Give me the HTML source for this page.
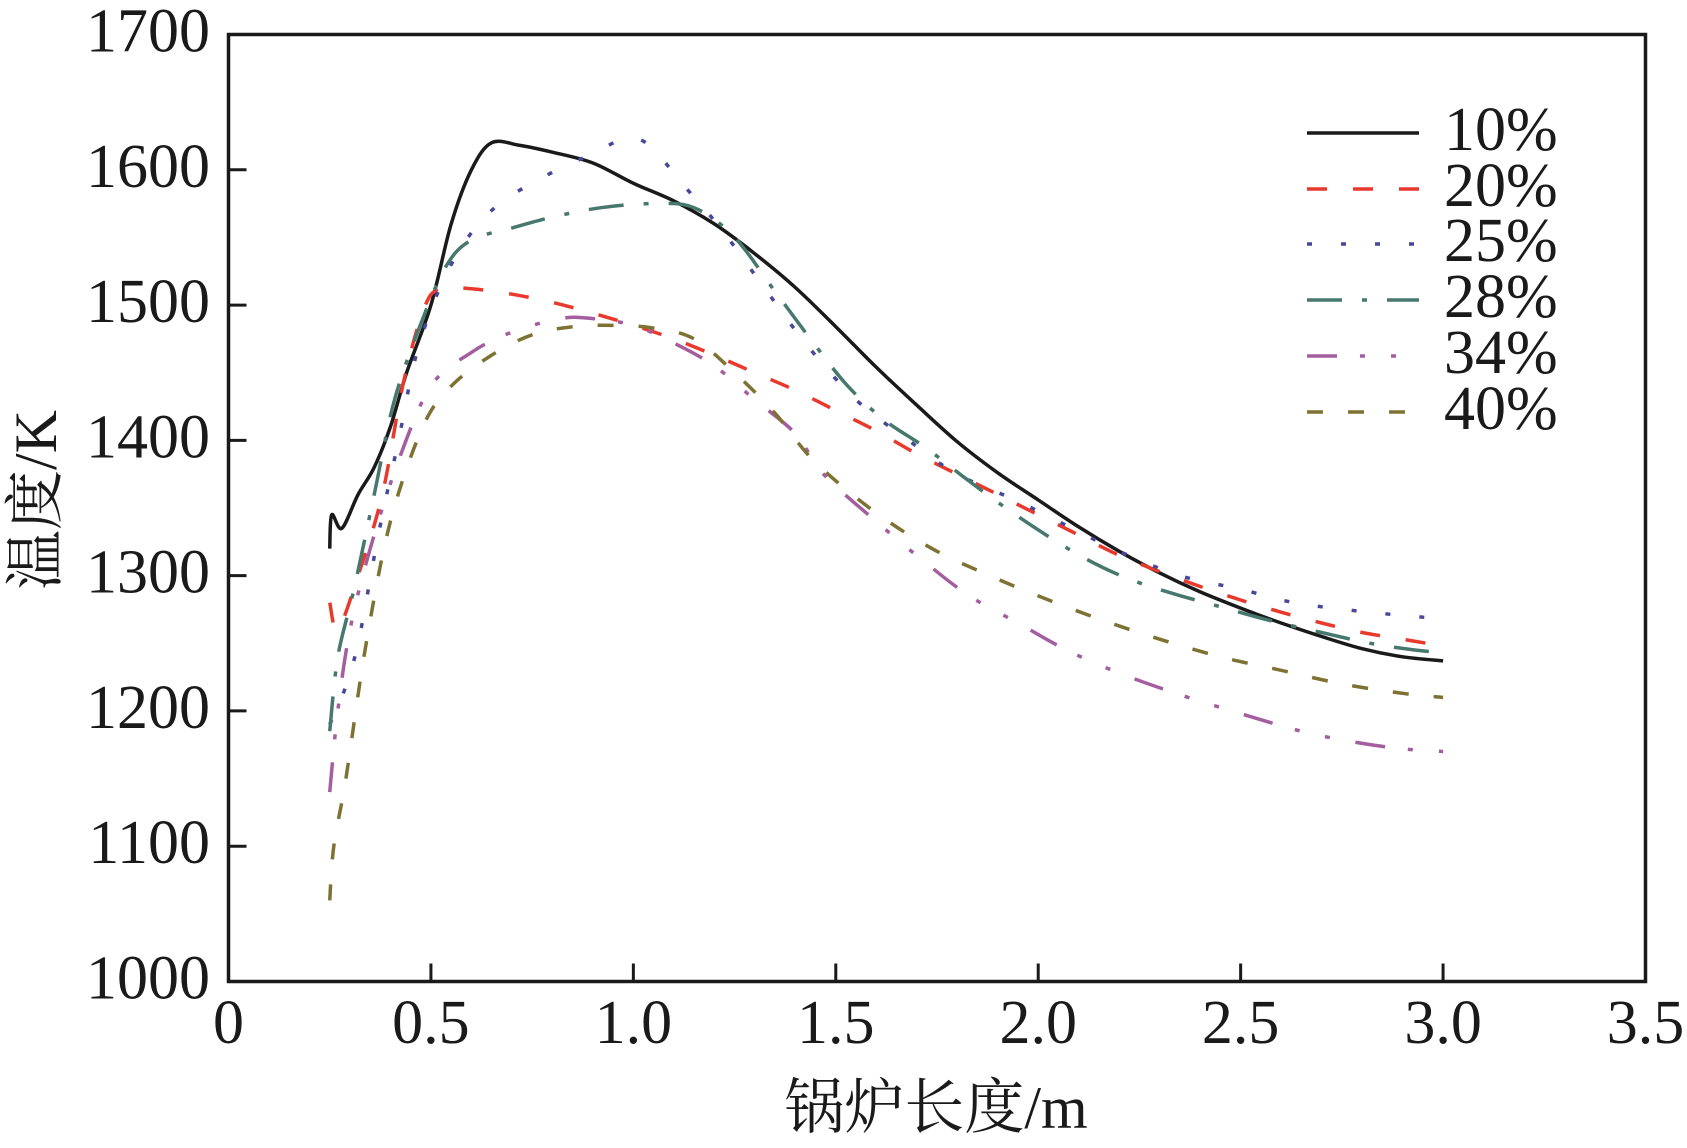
<!DOCTYPE html>
<html><head><meta charset="utf-8"><style>
html,body{margin:0;padding:0;background:#fff;}
svg{display:block;}
text{font-family:"Liberation Serif","Noto Serif CJK SC",serif;fill:#1a1a1a;}
</style></head><body>
<svg id="chart" width="1687" height="1148" viewBox="0 0 1687 1148" xmlns="http://www.w3.org/2000/svg">
<g id="grid"></g>
<g id="series"></g>
<g id="axes"></g>
<g id="legend"></g>
</svg>
<script>
const xTicks=[0,0.5,1.0,1.5,2.0,2.5,3.0,3.5];
const xTickLabels=["0","0.5","1.0","1.5","2.0","2.5","3.0","3.5"];
const yTicks=[1000,1100,1200,1300,1400,1500,1600,1700];
const seriesNames=["10%","20%","25%","28%","34%","40%"];
const x10=[0.25,0.255,0.28,0.32,0.36,0.4,0.44,0.5,0.55,0.6,0.65,0.72,0.8,0.9,1.0,1.1,1.2,1.3,1.4,1.5,1.6,1.7,1.8,1.9,2.0,2.1,2.2,2.3,2.4,2.5,2.6,2.7,2.8,2.9,3.0];
const y10=[1320,1345,1335,1360,1380,1410,1450,1500,1560,1600,1620,1618,1613,1605,1590,1577,1560,1538,1513,1484,1454,1426,1399,1376,1356,1336,1318,1302,1288,1276,1265,1255,1246,1240,1237];
const x20=[0.25,0.27,0.32,0.38,0.43,0.48,0.52,0.6,0.7,0.8,0.9,1.0,1.1,1.2,1.3,1.4,1.5,1.6,1.7,1.8,1.9,2.0,2.1,2.2,2.3,2.4,2.5,2.6,2.7,2.8,2.9,3.0];
const y20=[1280,1260,1300,1360,1440,1495,1512,1512,1508,1502,1494,1485,1475,1463,1450,1437,1422,1407,1390,1375,1360,1345,1330,1315,1303,1292,1282,1273,1265,1258,1253,1248];
const x25=[0.25,0.28,0.32,0.37,0.42,0.47,0.55,0.65,0.78,0.9,0.98,1.04,1.12,1.22,1.33,1.43,1.55,1.68,1.8,1.95,2.05,2.2,2.35,2.5,2.6,2.7,2.85,3.0];
const y25=[1190,1210,1250,1330,1400,1470,1530,1570,1595,1612,1623,1618,1590,1555,1510,1470,1430,1400,1375,1355,1340,1318,1300,1290,1282,1277,1272,1268];
const x28=[0.25,0.27,0.31,0.36,0.41,0.48,0.54,0.6,0.7,0.8,0.92,1.05,1.15,1.25,1.35,1.45,1.53,1.62,1.72,1.82,1.92,2.02,2.12,2.22,2.33,2.45,2.57,2.7,2.82,2.93,3.0];
const y28=[1185,1240,1290,1360,1430,1490,1530,1548,1557,1565,1572,1575,1572,1550,1510,1470,1440,1415,1395,1372,1350,1330,1312,1298,1287,1277,1267,1258,1250,1245,1243];
const x34=[0.25,0.27,0.3,0.35,0.42,0.5,0.6,0.7,0.82,0.9,1.0,1.1,1.2,1.3,1.4,1.47,1.6,1.72,1.83,1.95,2.07,2.2,2.35,2.5,2.65,2.78,2.9,3.0];
const y34=[1140,1200,1260,1320,1385,1440,1465,1480,1490,1490,1485,1472,1455,1430,1405,1375,1340,1310,1285,1265,1245,1228,1212,1198,1185,1177,1172,1170];
const x40=[0.25,0.26,0.29,0.34,0.4,0.48,0.55,0.65,0.75,0.85,0.95,1.05,1.15,1.25,1.35,1.43,1.52,1.63,1.75,1.88,2.0,2.15,2.3,2.45,2.6,2.75,2.9,3.0];
const y40=[1060,1100,1150,1250,1340,1410,1440,1463,1478,1484,1485,1483,1475,1450,1420,1390,1365,1340,1318,1300,1285,1268,1253,1240,1230,1220,1213,1210];

const L=228.5,R=1645.5,T=34.5,B=981.5;
const X=v=>L+(v-0)/(3.5-0)*(R-L);
const Y=v=>B-(v-1000)/(700)*(B-T);
const NS="http://www.w3.org/2000/svg";
function mk(tag,attrs,parent){const e=document.createElementNS(NS,tag);for(const k in attrs)e.setAttribute(k,attrs[k]);parent.appendChild(e);return e;}
const axes=document.getElementById('axes'),series=document.getElementById('series'),legend=document.getElementById('legend');

const frame=mk('rect',{x:L,y:T,width:R-L,height:B-T,fill:'none',stroke:'#1a1a1a','stroke-width':3.5},axes);


xTicks.forEach((t,i)=>{
  const tk=mk('line',{x1:X(t),x2:X(t),y1:B,y2:B-18,stroke:'#1a1a1a','stroke-width':3},axes);
  
  
  const tx=mk('text',{x:X(t),y:1043,'text-anchor':'middle','font-size':62},axes);
  tx.textContent=xTickLabels[i];
  
  
});
yTicks.forEach(t=>{
  const tk=mk('line',{x1:L,x2:L+18,y1:Y(t),y2:Y(t),stroke:'#1a1a1a','stroke-width':3},axes);
  
  
  const tx=mk('text',{x:210,y:Y(t)+17,'text-anchor':'end','font-size':62},axes);
  tx.textContent=String(t);
  
  
});
const xt=mk('text',{x:936,y:1128,'text-anchor':'middle','font-size':60},axes);
xt.textContent='锅炉长度/m';


const yt=mk('text',{x:0,y:0,'text-anchor':'middle','font-size':60,transform:'translate(56,500) rotate(-90)'},axes);
yt.textContent='温度/K';



const colors=['#1a1a1a','#e8392c','#46489a','#47786e','#a45ea0','#7e7233'];
const dashes=['none','20 26','5 29','35 20 5 20','30 23 5 26 5 26','16 25'];
const xs=[x10,x20,x25,x28,x34,x40],ys=[y10,y20,y25,y28,y34,y40];
function smooth(px,py){
  let d=`M${px[0]},${py[0]}`;
  for(let i=0;i<px.length-1;i++){
    const p0=i>0?i-1:i,p3=i+2<px.length?i+2:i+1;
    const c1x=px[i]+(px[i+1]-px[p0])/6,c1y=py[i]+(py[i+1]-py[p0])/6;
    const c2x=px[i+1]-(px[p3]-px[i])/6,c2y=py[i+1]-(py[p3]-py[i])/6;
    d+=` C${c1x.toFixed(1)},${c1y.toFixed(1)} ${c2x.toFixed(1)},${c2y.toFixed(1)} ${px[i+1].toFixed(1)},${py[i+1].toFixed(1)}`;
  }
  return d;
}
const legY=[133,189,244,300,356,412];
seriesNames.forEach((n,i)=>{
  const p=mk('path',{d:smooth(xs[i].map(X),ys[i].map(Y)),fill:'none',stroke:colors[i],'stroke-width':3.5,'stroke-dasharray':dashes[i]},series);
  
  
  const g=mk('g',{},legend);
  
  
  mk('line',{x1:1307,x2:1419,y1:legY[i],y2:legY[i],stroke:colors[i],'stroke-width':3.5,'stroke-dasharray':dashes[i]},g);
  const t=mk('text',{x:1444,y:legY[i]+17,'font-size':62},g);
  t.textContent=n;
});
</script>
</body></html>
